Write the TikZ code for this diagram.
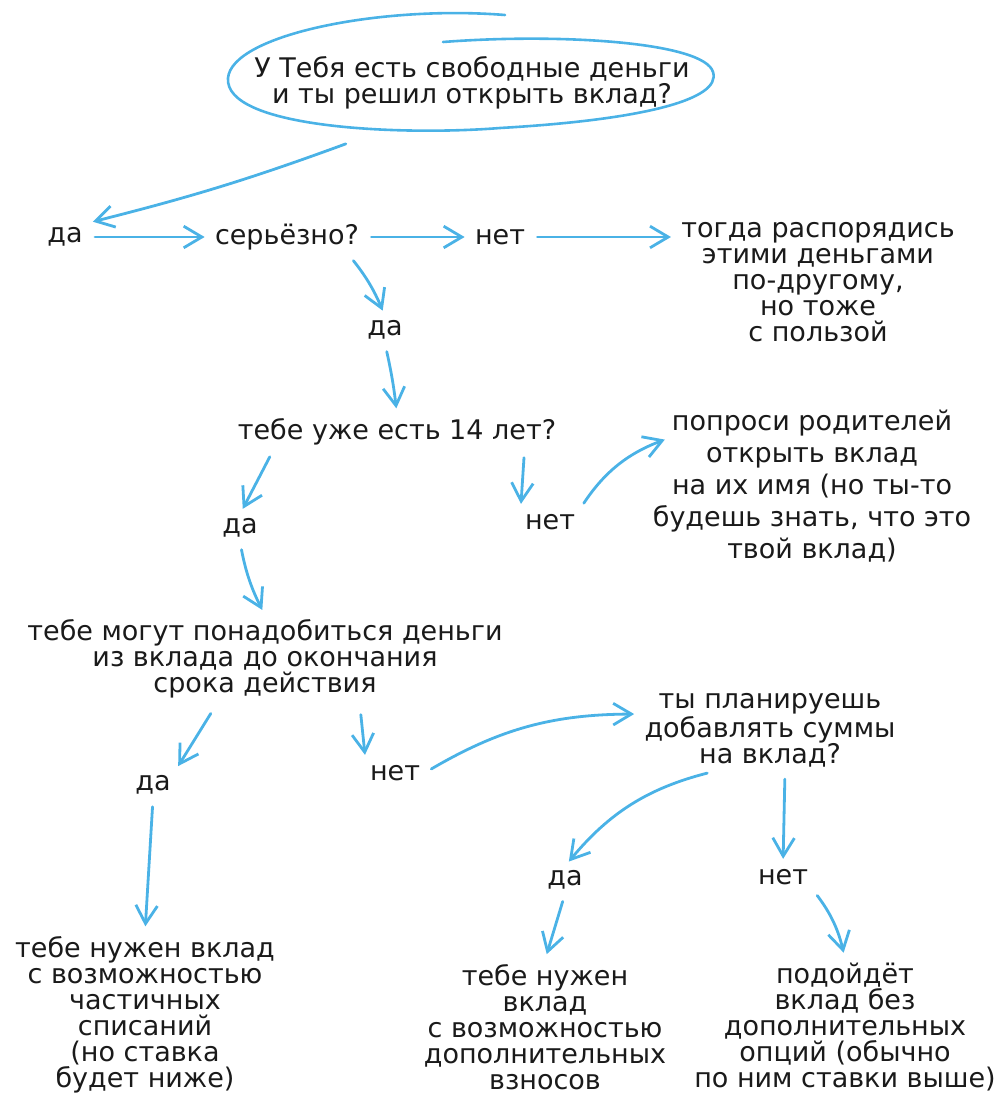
\documentclass[tikz,border=0pt]{standalone}
\usepackage{fontspec}
\setmainfont{DejaVu Sans}
\usetikzlibrary{arrows.meta,positioning,shapes.geometric,calc}
\definecolor{sketchBlue}{HTML}{4AB2E6}
\definecolor{sketchInk}{HTML}{1A1A1A}
\tikzset{
  answer/.style={
    text=sketchInk,
    inner sep=2pt,
    font=\fontsize{13.5}{13}\selectfont
  },
  question/.style={
    text=sketchInk,
    align=center,
    inner sep=2pt,
    font=\fontsize{13.5}{13}\selectfont
  },
  questionLoose/.style={
    question,
    font=\fontsize{13.5}{16}\selectfont
  },
  startOval/.style={
    question,
    ellipse,
    minimum width=245pt,
    minimum height=50pt
  },
  arrow/.style={
    -{Straight Barb[length=3.2mm,width=3.8mm]},
    line width=1.4pt,
    line cap=round,
    draw=sketchBlue,
    shorten >=3pt,
    shorten <=4pt
  },
  ovalStroke/.style={
    line width=1.3pt,
    line cap=round,
    draw=sketchBlue
  }
}

\begin{document}
\begin{tikzpicture}[x=0.5pt,y=0.5pt]
  \useasboundingbox (0,0) rectangle (994,-1103);
  \node[startOval] (start) at (472,-83) {У Тебя есть свободные деньги\\и ты решил открыть вклад?};
  \draw[ovalStroke] (505,-15) .. controls (380,-5) and (232,-35) .. (228,-78)
    .. controls (224,-128) and (400,-136) .. (500,-128)
    .. controls (640,-120) and (722,-100) .. (713,-72)
    .. controls (704,-42) and (560,-33) .. (443,-42);
  \node[answer] (yes1) at (65,-237) {да};
  \node[answer] (serious) at (287,-237) {серьёзно?};
  \node[answer] (no1) at (500,-237) {нет};
  \node[question] (otherwise) at (818,-282) {тогда распорядись\\этими деньгами\\по-другому,\\но тоже\\с пользой};
  \node[answer] (yes2) at (385,-330) {да};
  \node[question] (age) at (397,-432) {тебе уже есть 14 лет?};
  \node[answer] (yes3) at (240,-528) {да};
  \node[answer] (no3) at (550,-522) {нет};
  \node[questionLoose] (parents) at (812,-486) {попроси родителей\\открыть вклад\\на их имя (но ты-то\\будешь знать, что это\\твой вклад)};
  \node[question] (early) at (265,-659) {тебе могут понадобиться деньги\\из вклада до окончания\\срока действия};
  \node[answer] (yes4) at (153,-785) {да};
  \node[answer] (no4) at (395,-773) {нет};
  \node[question] (topup) at (770,-730) {ты планируешь\\добавлять суммы\\на вклад?};
  \node[answer] (yes5) at (565,-880) {да};
  \node[answer] (no5) at (783,-877) {нет};
  \node[question] (partial) at (145,-1015) {тебе нужен вклад\\с возможностью\\частичных\\списаний\\(но ставка\\будет ниже)};
  \node[question] (deposits) at (545,-1027) {тебе нужен\\вклад\\с возможностью\\дополнительных\\взносов};
  \node[question] (plain) at (845,-1027) {подойдёт\\вклад без\\дополнительных\\опций (обычно\\по ним ставки выше)};
  \draw[arrow] ($(start.200)+(8,-12)$) to[bend left=3] (yes1.north east);
  \draw[arrow] (yes1.east) -- (serious.west);
  \draw[arrow] (serious.east) -- (no1.west);
  \draw[arrow] (no1.east) -- (no1.east -| otherwise.west);
  \draw[arrow] ($(serious.south east)+(-15,0)$) to[bend left=8] (yes2.north);
  \draw[arrow] (yes2.south) to[bend left=3] (age.north);
  \draw[arrow] ($(age.south west)+(40,0)$) -- (yes3.north);
  \draw[arrow] ($(age.south east)+(-36,0)$) -- (no3.north west);
  \draw[arrow] (no3.north east) to[bend left=18] ($(parents.north west)+(22,-32)$);
  \draw[arrow] (yes3.south) to[bend right=8] (early.north);
  \draw[arrow] ($(early.south)+(-50,-4)$) -- (yes4.north east);
  \draw[arrow] ($(early.south)+(95,-4)$) -- (no4.north west);
  \draw[arrow] (no4.east) to[bend left=15] ([yshift=8pt]topup.west);
  \draw[arrow] ($(topup.south)+(-55,0)$) to[bend right=18] (yes5.north);
  \draw[arrow] ($(topup.south)+(15,0)$) -- (no5.north);
  \draw[arrow] (yes4.south) -- (partial.north);
  \draw[arrow] (yes5.south) -- (deposits.north);
  \draw[arrow] (no5.south east) to[bend left=12] (plain.north);
\end{tikzpicture}
\end{document}
